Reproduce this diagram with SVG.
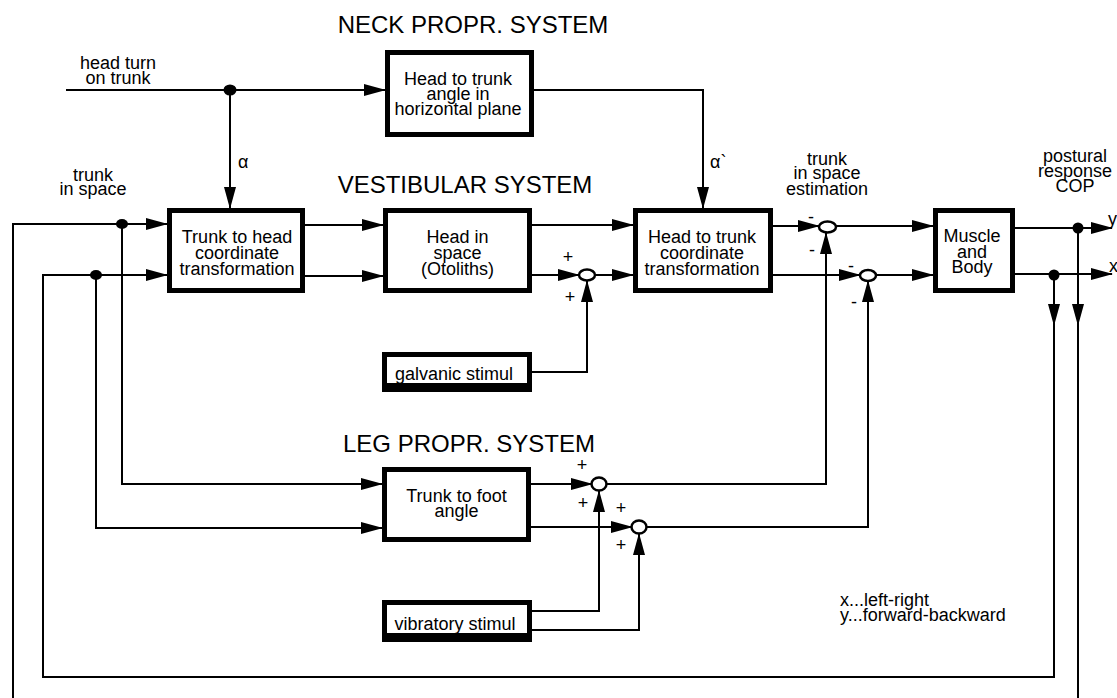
<svg xmlns="http://www.w3.org/2000/svg" width="1117" height="698" viewBox="0 0 1117 698">
<defs>
<style>
text{font-family:"Liberation Sans",Arial,sans-serif;font-size:18px;fill:#000}
.h{font-size:24px}
.m{text-anchor:middle}
.box{fill:#fff;stroke:#000;stroke-width:5}
.ln{fill:none;stroke:#000;stroke-width:2}
.sum{fill:#fff;stroke:#000;stroke-width:2.5}
.dot{fill:#000}
</style>
<marker id="ar" markerUnits="userSpaceOnUse" markerWidth="22" markerHeight="12" refX="21" refY="6" orient="auto">
<path d="M0,0 L22,6 L0,12 z" fill="#000"/>
</marker>
</defs>
<rect width="1117" height="698" fill="#fff"/>

<g id="connectors">
<path class="ln" d="M66,90 H385" marker-end="url(#ar)"/>
<path class="ln" d="M230,90 V208" marker-end="url(#ar)"/>
<path class="ln" d="M534,90 H703 V208" marker-end="url(#ar)"/>
<path class="ln" d="M13,698 V224 H167" marker-end="url(#ar)"/>
<path class="ln" d="M122,224 V484 H382" marker-end="url(#ar)"/>
<path class="ln" d="M1054,275 V325" marker-end="url(#ar)"/>
<path class="ln" d="M1054,322 V677 H43 V275 H167" marker-end="url(#ar)"/>
<path class="ln" d="M96,275 V528 H382" marker-end="url(#ar)"/>
<path class="ln" d="M1078,228 V325" marker-end="url(#ar)"/>
<path class="ln" d="M1078,322 V698"/>
<path class="ln" d="M305,225 H383" marker-end="url(#ar)"/>
<path class="ln" d="M305,276 H383" marker-end="url(#ar)"/>
<path class="ln" d="M532,225 H633" marker-end="url(#ar)"/>
<path class="ln" d="M532,275 H579" marker-end="url(#ar)"/>
<path class="ln" d="M595,275 H633" marker-end="url(#ar)"/>
<path class="ln" d="M532,372 H587 V281" marker-end="url(#ar)"/>
<path class="ln" d="M773,226 H819" marker-end="url(#ar)"/>
<path class="ln" d="M836,226 H933" marker-end="url(#ar)"/>
<path class="ln" d="M773,275 H860" marker-end="url(#ar)"/>
<path class="ln" d="M876,275 H933" marker-end="url(#ar)"/>
<path class="ln" d="M1015,228 H1112" marker-end="url(#ar)"/>
<path class="ln" d="M1015,274 H1112" marker-end="url(#ar)"/>
<path class="ln" d="M531,484 H592" marker-end="url(#ar)"/>
<path class="ln" d="M531,527 H632" marker-end="url(#ar)"/>
<path class="ln" d="M606,484 H826 V233" marker-end="url(#ar)"/>
<path class="ln" d="M646,527 H868 V281" marker-end="url(#ar)"/>
<path class="ln" d="M532,611 H599 V491" marker-end="url(#ar)"/>
<path class="ln" d="M532,630 H639 V534" marker-end="url(#ar)"/>
<ellipse class="dot" cx="230" cy="90" rx="6.5" ry="5.5"/>
<ellipse class="dot" cx="122" cy="224" rx="6" ry="5"/>
<ellipse class="dot" cx="96" cy="275" rx="6" ry="5"/>
<ellipse class="dot" cx="1078" cy="228" rx="5.5" ry="5.5"/>
<ellipse class="dot" cx="1054" cy="275" rx="5.5" ry="5.5"/>
</g>

<g id="labels">
<text class="h m" x="473" y="33">NECK PROPR. SYSTEM</text>
<text class="h m" x="465" y="193">VESTIBULAR SYSTEM</text>
<text class="h m" x="469" y="452">LEG PROPR. SYSTEM</text>
<text class="m" x="118" y="69">head turn</text>
<text class="m" x="118" y="84">on trunk</text>
<text class="m" x="93" y="181">trunk</text>
<text class="m" x="93" y="195">in space</text>
<text x="238" y="168">α</text>
<text x="710" y="168">α`</text>
<text class="m" x="827" y="165">trunk</text>
<text class="m" x="827" y="179">in space</text>
<text class="m" x="827" y="195">estimation</text>
<text class="m" x="1075" y="162">postural</text>
<text class="m" x="1075" y="177">response</text>
<text class="m" x="1075" y="192">COP</text>
<text x="1108" y="225">y</text>
<text x="1109" y="272">x</text>
<text x="840" y="606">x...left-right</text>
<text x="840" y="621">y...forward-backward</text>
<text class="m" x="568" y="263">+</text>
<text class="m" x="570" y="303">+</text>
<text class="m" x="811" y="223">-</text>
<text class="m" x="812" y="256">-</text>
<text class="m" x="851" y="272">-</text>
<text class="m" x="854" y="308">-</text>
<text class="m" x="582" y="471">+</text>
<text class="m" x="583" y="509">+</text>
<text class="m" x="621" y="514">+</text>
<text class="m" x="621" y="551">+</text>
</g>

<g id="neck">
<rect class="box" x="387.5" y="52.5" width="144" height="82"/>
<text class="m" x="458" y="85">Head to trunk</text>
<text class="m" x="458" y="100">angle in</text>
<text class="m" x="458" y="115">horizontal plane</text>
</g>
<g id="trunk-to-head">
<rect class="box" x="169.5" y="210.5" width="133" height="80"/>
<text class="m" x="237" y="243">Trunk to head</text>
<text class="m" x="237" y="259">coordinate</text>
<text class="m" x="237" y="275">transformation</text>
</g>
<g id="head-in-space">
<rect class="box" x="385.5" y="210.5" width="144" height="80"/>
<text class="m" x="457.5" y="243">Head in</text>
<text class="m" x="457.5" y="259">space</text>
<text class="m" x="457.5" y="275">(Otoliths)</text>
</g>
<g id="head-to-trunk">
<rect class="box" x="635.5" y="210.5" width="135" height="80"/>
<text class="m" x="702" y="243">Head to trunk</text>
<text class="m" x="702" y="259">coordinate</text>
<text class="m" x="702" y="275">transformation</text>
</g>
<g id="muscle">
<rect class="box" x="935.5" y="210.5" width="77" height="80"/>
<text class="m" x="972" y="242">Muscle</text>
<text class="m" x="972" y="258">and</text>
<text class="m" x="972" y="273">Body</text>
</g>
<g id="galvanic">
<rect class="box" x="384.5" y="354.5" width="145" height="35"/>
<text class="m" x="454" y="380">galvanic stimul</text>
<rect x="382" y="383" width="150" height="9" fill="#000"/>
</g>
<g id="trunk-to-foot">
<rect class="box" x="384.5" y="469.5" width="144" height="70"/>
<text class="m" x="456.5" y="502">Trunk to foot</text>
<text class="m" x="456.5" y="517">angle</text>
</g>
<g id="vibratory">
<rect class="box" x="384.5" y="602.5" width="145" height="37"/>
<text class="m" x="455" y="630">vibratory stimul</text>
<rect x="382" y="633" width="150" height="9" fill="#000"/>
</g>
<g id="sum-vestibular"><ellipse class="sum" cx="587" cy="275" rx="8" ry="5.5"/></g>
<g id="sum-est-y"><ellipse class="sum" cx="827.5" cy="227" rx="8.5" ry="5.5"/></g>
<g id="sum-est-x"><ellipse class="sum" cx="868" cy="275.5" rx="8" ry="5.5"/></g>
<g id="sum-leg-1"><ellipse class="sum" cx="599" cy="484" rx="7.5" ry="6.5"/></g>
<g id="sum-leg-2"><ellipse class="sum" cx="639" cy="527" rx="7.5" ry="6.5"/></g>
</svg>
